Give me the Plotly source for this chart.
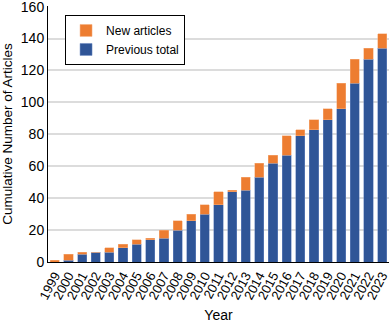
import plotly.graph_objects as go

years = [str(y) for y in range(1999, 2024)]
total = [1, 5, 6, 6, 9, 11, 14, 15, 20, 26, 30, 36, 44, 45, 53, 62, 67, 79, 83, 89,
         96, 112, 127, 134, 143]
previous = [0, 1, 5, 6, 6, 9, 11, 14, 15, 20, 26, 30, 36, 44, 45, 53, 62, 67, 79, 83,
            89, 96, 112, 127, 134]
new_articles = [t - p for t, p in zip(total, previous)]

font = "Arial, Liberation Sans, sans-serif"

fig = go.Figure()
fig.add_trace(go.Bar(x=years, y=previous, name="Previous total",
                     marker=dict(color="#2F5597", line=dict(color="#6f8cc4", width=0.5))))
fig.add_trace(go.Bar(x=years, y=new_articles, name="New articles",
                     marker=dict(color="#ED7D31", line=dict(color="#f5b080", width=0.5))))

fig.update_layout(
    width=392, height=323,
    barmode="stack", bargap=0.33,
    margin=dict(l=48, r=3, t=6, b=61),
    paper_bgcolor="white", plot_bgcolor="white",
    font=dict(family=font, size=13, color="black"),
    legend=dict(x=0.05, y=0.965, xanchor="left", yanchor="top",
                traceorder="reversed", bordercolor="black", borderwidth=1,
                bgcolor="white", font=dict(size=12),
                itemwidth=30, tracegroupgap=0),
    showlegend=True,
)
fig.update_xaxes(
    title=dict(text="Year", font=dict(size=14), standoff=9),
    tickangle=-62, tickfont=dict(size=13),
    tickmode="array", tickvals=years, ticktext=years,
    range=[-0.5, 24.5], automargin=False,
    showline=True, linecolor="black", linewidth=1,
    ticks="", showgrid=False,
)
fig.update_yaxes(
    title=dict(text="Cumulative Number of Articles", font=dict(size=13.5), standoff=8),
    range=[0, 160.4], tickvals=[0, 20, 40, 60, 80, 100, 120, 140, 160], tickfont=dict(size=14),
    ticklabeloverflow="allow",
    showline=True, linecolor="black", linewidth=1, automargin=False,
    showgrid=True, gridcolor="#dcdcdc", gridwidth=1.5,
    zeroline=False, ticks="",
)

# drop the default page margin so the figure sits at the window's corner
fig.write_html("out.html", config={"displayModeBar": False},
               post_script="document.body.style.margin='0';")
